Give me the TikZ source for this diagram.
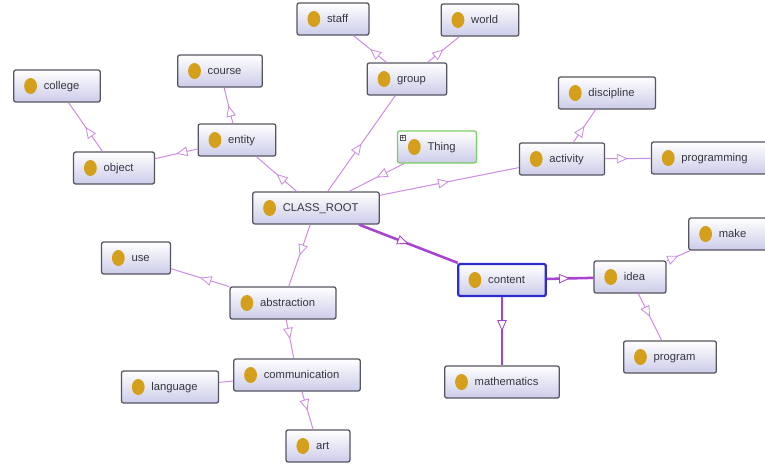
\documentclass[tikz,border=0pt]{standalone}
\usepackage{fontspec}
\setmainfont{Liberation Sans}
\usetikzlibrary{arrows.meta, decorations.markings}

\definecolor{boxgray}{RGB}{85,85,95}
\definecolor{boxfill}{RGB}{204,204,234}
\definecolor{dotgold}{RGB}{212,160,28}
\definecolor{labelgray}{RGB}{55,55,65}
\definecolor{linkviolet}{RGB}{204,140,228}
\definecolor{heavyviolet}{RGB}{168,66,208}
\definecolor{thinggreen}{RGB}{120,205,100}
\definecolor{selblue}{RGB}{45,45,205}

\tikzset{
  owlclass/.style={draw=boxgray, line width=0.9pt, rounded corners=1.5pt,
    top color=white, bottom color=boxfill, minimum height=0.8cm,
    inner xsep=0.52cm, inner ysep=0pt, text=labelgray,
    font=\fontsize{8}{9}\selectfont, text height=6.5pt, text depth=1pt,
    execute at begin node=\hspace*{0.23cm},
    path picture={\fill[dotgold] ([xshift=0.42cm]path picture bounding box.west)
      ellipse (0.16cm and 0.2cm);}},
  isa/.style={linkviolet, line width=0.7pt, postaction={decorate},
    decoration={markings, mark=at position 0.5 with
      {\arrow{Triangle[length=0.28cm, width=0.24cm, fill=white, line width=0.6pt]}}}},
  isaheavy/.style={isa, heavyviolet, line width=1.8pt}
}

\begin{document}
\begin{tikzpicture}[>=latex, x=0.025cm, y=-0.025cm]
  \useasboundingbox[fill=white] (0,0) rectangle (765,468);

  % Classes (pixel positions of the box centres)
  \node[owlclass] (college)       at (57,86)   {college};
  \node[owlclass] (course)        at (220,71)  {course};
  \node[owlclass] (staff)         at (333,19)  {staff};
  \node[owlclass] (world)         at (480,20)  {world};
  \node[owlclass] (group)         at (407,79)  {group};
  \node[owlclass] (entity)        at (237,140) {entity};
  \node[owlclass] (object)        at (114,168) {object};
  \node[owlclass, draw=thinggreen] (thing) at (437,147) {Thing};
  \node[owlclass] (activity)      at (562,159) {activity};
  \node[owlclass] (discipline)    at (607,93)  {discipline};
  \node[owlclass] (programming)   at (710,158) {programming};
  \node[owlclass] (root)          at (316,208) {CLASS\_ROOT};
  \node[owlclass] (use)           at (136,258) {use};
  \node[owlclass] (abstraction)   at (283,303) {abstraction};
  \node[owlclass, draw=selblue, line width=1.6pt] (content) at (502,280) {content};
  \node[owlclass] (idea)          at (630,277) {idea};
  \node[owlclass] (make)          at (728,234) {make};
  \node[owlclass] (program)       at (670,357) {program};
  \node[owlclass] (mathematics)   at (502,382) {mathematics};
  \node[owlclass] (language)      at (170,387) {language};
  \node[owlclass] (communication) at (297,375) {communication};
  \node[owlclass] (art)           at (318,446) {art};

  % Expand marker on Thing
  \node[draw=boxgray, fill=white, line width=0.4pt, inner sep=0.4pt,
        font=\fontsize{5}{5}\selectfont] (thingplus) at (403,138) {+};

  % Subclass links
  \foreach \a/\b in {root/entity, entity/object, object/college, entity/course,
                     root/group, group/staff, group/world, thing/root,
                     root/activity, activity/discipline, activity/programming,
                     root/abstraction, abstraction/use, abstraction/communication,
                     communication/art, idea/make, idea/program} {
    \draw[isa] (\a) -- (\b);
  }
  \draw[linkviolet, line width=0.7pt] (communication) -- (language);

  % Links of the selected class
  \foreach \a/\b in {root/content, content/idea, content/mathematics} {
    \draw[isaheavy] (\a) -- (\b);
  }
\end{tikzpicture}
\end{document}
